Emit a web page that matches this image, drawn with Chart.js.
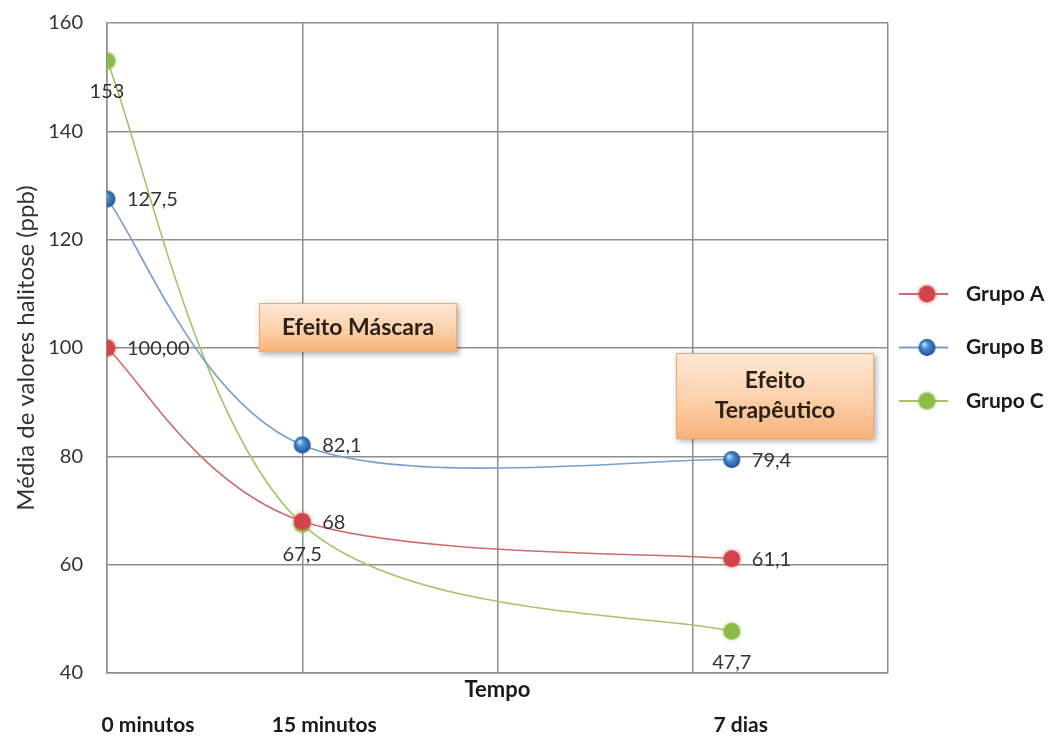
<!DOCTYPE html>
<html>
<head>
<meta charset="utf-8">
<script src="https://cdn.jsdelivr.net/npm/chart.js@4.4.1/dist/chart.umd.min.js"></script>
<style>
  html, body { margin: 0; padding: 0; background: #ffffff; }
  #wrap { width: 1051px; height: 740px; }
</style>
</head>
<body>
<div id="wrap"><canvas id="chart" width="1051" height="740"></canvas></div>
<script>
// Measurement moments and their place on the time axis
const timeLabels = ['0 minutos', '15 minutos', '7 dias'];
const timePositions = [0, 1, 3.2];

// Mean halitosis values (ppb) per group
const grupoA = [100, 68, 61.1];
const grupoB = [127.5, 82.1, 79.4];
const grupoC = [153, 67.5, 47.7];

// Value labels as printed next to each point
const textA = ['100,00', '68', '61,1'];
const textB = ['127,5', '82,1', '79,4'];
const textC = ['153', '67,5', '47,7'];

const seriesNames = ['Grupo A', 'Grupo B', 'Grupo C'];

const FONT = 'Lato, "Liberation Sans", sans-serif';

function toPoints(values) {
  return values.map((v, i) => ({ x: timePositions[i], y: v }));
}

// Glossy blue sphere used as the marker of Grupo B
function makeSphere(r) {
  const c = document.createElement('canvas');
  c.width = c.height = Math.ceil(r * 2 + 2);
  const g = c.getContext('2d');
  const cx = c.width / 2, cy = c.height / 2;
  const grad = g.createRadialGradient(cx - r * 0.35, cy - r * 0.4, r * 0.1, cx, cy, r);
  grad.addColorStop(0, '#b9dbff');
  grad.addColorStop(0.35, '#4b8ed6');
  grad.addColorStop(0.8, '#2a66ad');
  grad.addColorStop(1, '#1c4a82');
  g.fillStyle = grad;
  g.beginPath();
  g.arc(cx, cy, r, 0, Math.PI * 2);
  g.fill();
  return c;
}
const blueSphere = makeSphere(8.5);

// Soft flat disc for Grupo A / Grupo C markers
function makeDisc(r, fill, halo) {
  const c = document.createElement('canvas');
  c.width = c.height = Math.ceil(r * 2 + 6);
  const g = c.getContext('2d');
  const cx = c.width / 2, cy = c.height / 2;
  g.shadowColor = halo;
  g.shadowBlur = 4;
  g.fillStyle = fill;
  g.beginPath();
  g.arc(cx, cy, r, 0, Math.PI * 2);
  g.fill();
  return c;
}
const redDisc = makeDisc(8.5, '#d2434a', 'rgba(220,90,90,0.6)');
const greenDisc = makeDisc(8.5, '#8dbb48', 'rgba(150,200,90,0.6)');

// Spreadsheet-style smoothing: each control point sits 1/6 of the
// neighbour-to-neighbour vector away from its point
const spreadsheetSmoothing = {
  id: 'spreadsheetSmoothing',
  beforeDatasetDraw(chart, args) {
    const line = args.meta.dataset;
    if (!line) return;
    line.updateControlPoints(chart.chartArea, 'x');
    const pts = args.meta.data;
    pts.forEach((p, i) => {
      const prev = pts[i - 1] || p;
      const next = pts[i + 1] || p;
      const dx = (next.x - prev.x) / 6;
      const dy = (next.y - prev.y) / 6;
      p.cp1x = p.x - dx; p.cp1y = p.y - dy;
      p.cp2x = p.x + dx; p.cp2y = p.y + dy;
    });
  }
};

// Text labels beside every point
const valueLabels = {
  id: 'valueLabels',
  afterDatasetsDraw(chart, args, opts) {
    const ctx = chart.ctx;
    ctx.save();
    ctx.font = opts.font;
    ctx.fillStyle = opts.color;
    chart.data.datasets.forEach((ds, i) => {
      const meta = chart.getDatasetMeta(i);
      meta.data.forEach((pt, j) => {
        const txt = ds.valueText[j];
        ctx.textBaseline = 'middle';
        if (ds.labelSide === 'right') {
          ctx.textAlign = 'left';
          ctx.fillText(txt, pt.x + 20, pt.y + 1);
        } else {
          ctx.textAlign = 'center';
          ctx.fillText(txt, pt.x, pt.y + 31);
        }
      });
    });
    ctx.restore();
  }
};

// Orange callout boxes
const callouts = {
  id: 'callouts',
  afterDatasetsDraw(chart, args, opts) {
    const ctx = chart.ctx;
    opts.boxes.forEach(b => {
      ctx.save();
      const grad = ctx.createLinearGradient(0, b.y, 0, b.y + b.h);
      grad.addColorStop(0, '#fde8d6');
      grad.addColorStop(0.5, '#fcd3ae');
      grad.addColorStop(1, '#f9b27a');
      ctx.shadowColor = 'rgba(0,0,0,0.35)';
      ctx.shadowBlur = 6;
      ctx.shadowOffsetX = 2;
      ctx.shadowOffsetY = 2;
      ctx.fillStyle = grad;
      ctx.fillRect(b.x, b.y, b.w, b.h);
      ctx.shadowColor = 'transparent';
      ctx.strokeStyle = '#f4a869';
      ctx.lineWidth = 1;
      ctx.strokeRect(b.x + 0.5, b.y + 0.5, b.w - 1, b.h - 1);
      ctx.fillStyle = '#2b2118';
      ctx.font = opts.font;
      ctx.textAlign = 'center';
      ctx.textBaseline = 'middle';
      const lh = 30;
      const y0 = b.y + b.h / 2 - (b.lines.length - 1) * lh / 2;
      b.lines.forEach((t, k) => ctx.fillText(t, b.x + b.w / 2, y0 + k * lh));
      ctx.restore();
    });
  }
};

// Category names under the axis title, legend on the right
const extras = {
  id: 'extras',
  afterDraw(chart, args, opts) {
    const ctx = chart.ctx;
    const xs = chart.scales.x;
    ctx.save();
    ctx.font = opts.categoryFont;
    ctx.fillStyle = '#1a1a1a';
    ctx.textAlign = 'center';
    ctx.textBaseline = 'middle';
    timeLabels.forEach((t, i) => {
      ctx.fillText(t, xs.getPixelForValue(timePositions[i]) + opts.categoryShift[i], opts.categoryY);
    });

    // legend
    const area = chart.chartArea;
    chart.data.datasets.forEach((ds, i) => {
      const y = opts.legendY + i * opts.legendGap;
      const x0 = area.right + 11;
      ctx.strokeStyle = ds.borderColor;
      ctx.lineWidth = 2;
      ctx.beginPath();
      ctx.moveTo(x0, y);
      ctx.lineTo(x0 + 49, y);
      ctx.stroke();
      const img = ds.pointStyle;
      ctx.drawImage(img, x0 + 28 - img.width / 2, y - img.height / 2);
      ctx.fillStyle = '#1a1a1a';
      ctx.font = opts.legendFont;
      ctx.textAlign = 'left';
      ctx.fillText(ds.label, x0 + 67, y);
    });
    ctx.restore();
  }
};

const gridColor = '#8e8e8e';

new Chart(document.getElementById('chart'), {
  type: 'line',
  data: {
    datasets: [
      {
        label: seriesNames[0],
        data: toPoints(grupoA),
        valueText: textA,
        labelSide: 'right',
        borderColor: '#cd6b6b',
        borderWidth: 1.6,
        pointStyle: redDisc,
        tension: 0.4
      },
      {
        label: seriesNames[1],
        data: toPoints(grupoB),
        valueText: textB,
        labelSide: 'right',
        borderColor: '#759ed2',
        borderWidth: 1.6,
        pointStyle: blueSphere,
        tension: 0.4
      },
      {
        label: seriesNames[2],
        data: toPoints(grupoC),
        valueText: textC,
        labelSide: 'below',
        borderColor: '#a6c46c',
        borderWidth: 1.6,
        pointStyle: greenDisc,
        tension: 0.4
      }
    ]
  },
  options: {
    responsive: false,
    animation: false,
    layout: { padding: { top: 23, right: 163, left: 0, bottom: 0 } },
    scales: {
      x: {
        type: 'linear',
        min: 0,
        max: 4,
        ticks: { display: false, stepSize: 1 },
        grid: { color: gridColor, lineWidth: 1.5, drawTicks: false },
        border: { color: gridColor, width: 1.5 },
        title: {
          display: true,
          text: 'Tempo',
          color: '#1a1a1a',
          font: { family: FONT, size: 22, weight: 'bold' },
          padding: { top: 0, bottom: 37 }
        },
        afterFit(scale) { scale.height = 67; }
      },
      y: {
        min: 40,
        max: 160,
        ticks: {
          stepSize: 20,
          padding: 24,
          color: '#333333',
          font: { family: FONT, size: 20 }
        },
        grid: { color: gridColor, lineWidth: 1.5, drawTicks: false },
        border: { color: gridColor, width: 1.5 },
        title: {
          display: true,
          text: 'Média de valores halitose (ppb)',
          color: '#333333',
          font: { family: FONT, size: 24 },
          padding: { top: 12, bottom: 0 }
        },
        afterFit(scale) {
          scale.width = 107;
          scale.paddingTop = 0;
          scale.paddingBottom = 0;
        }
      }
    },
    plugins: {
      legend: { display: false },
      tooltip: { enabled: false },
      valueLabels: { font: '20px ' + FONT, color: '#333333' },
      callouts: {
        font: 'bold 23px ' + FONT,
        boxes: [
          { x: 259, y: 303, w: 198, h: 49, lines: ['Efeito Máscara'] },
          { x: 676, y: 353, w: 198, h: 86, lines: ['Efeito', 'Terapêutico'] }
        ]
      },
      extras: {
        categoryFont: 'bold 21px ' + FONT,
        categoryShift: [41, 22, 9],
        categoryY: 725,
        legendFont: 'bold 21px ' + FONT,
        legendY: 294,
        legendGap: 53.5
      }
    }
  },
  plugins: [spreadsheetSmoothing, callouts, valueLabels, extras]
});
</script>
</body>
</html>
